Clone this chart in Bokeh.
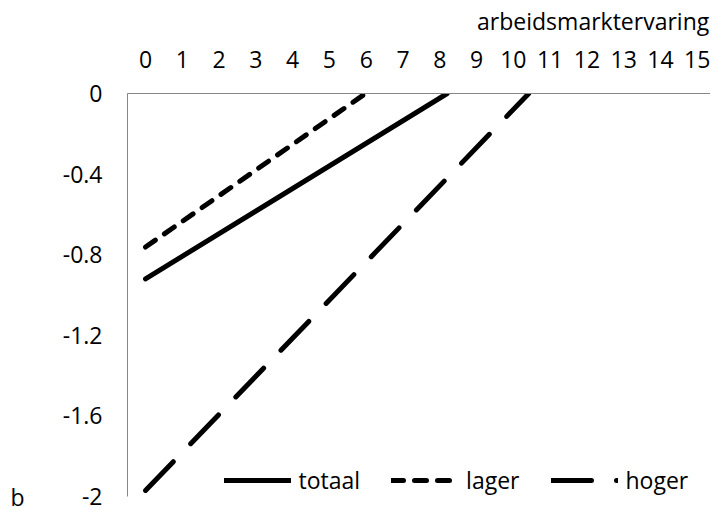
from bokeh.plotting import figure
from bokeh.models import Range1d, FixedTicker, Legend, LegendItem, LinearAxis
from bokeh.embed import file_html
from bokeh.resources import INLINE

# ---- data ----
experience_ticks = list(range(16))          # arbeidsmarktervaring 0..15
y_ticks = [0, -0.4, -0.8, -1.2, -1.6, -2]
y_tick_labels = ["0", "-0.4", "-0.8", "-1.2", "-1.6", "-2"]

series_names = ["totaal", "lager", "hoger"]
totaal_x = [0, 8.2]
totaal_y = [-0.92, 0.0]
lager_x = [0, 5.98]
lager_y = [-0.762, 0.0]
hoger_x = [0, 10.42]
hoger_y = [-1.97, 0.0]

x_title = "arbeidsmarktervaring"
y_title = "b"

FONT = "Open Sans"
FS = "23px"
AXIS_GRAY = "#868686"
TITLE_ANCHOR = 12.17     # layout: centre of the right-aligned axis title

p = figure(width=710, height=512,
           x_range=Range1d(-0.49, 15.36), y_range=Range1d(-2, 0),
           x_axis_location="above",
           output_backend="svg", toolbar_location=None,
           min_border_left=127, min_border_right=0,
           min_border_top=93, min_border_bottom=16)

p.grid.visible = False
p.outline_line_color = None
p.background_fill_color = "white"
p.border_fill_color = "white"

xa = p.xaxis[0]
xa.ticker = FixedTicker(ticks=experience_ticks)
xa.major_label_overrides = {t: str(t) for t in experience_ticks}
ya = p.yaxis[0]
ya.ticker = FixedTicker(ticks=y_ticks)
ya.major_label_overrides = dict(zip(y_ticks, y_tick_labels))

def style_axis(ax, standoff, line_color=AXIS_GRAY):
    ax.major_tick_out = 0
    ax.major_tick_in = 0
    ax.minor_tick_out = 0
    ax.minor_tick_in = 0
    ax.axis_line_color = line_color
    ax.axis_line_width = 1
    ax.major_label_text_font = FONT
    ax.major_label_text_font_size = FS
    ax.major_label_text_color = "black"
    ax.major_label_standoff = standoff

style_axis(xa, 26)
style_axis(ya, 25)

# axis title "arbeidsmarktervaring": right aligned above the category labels
t_axis = LinearAxis(ticker=FixedTicker(ticks=[TITLE_ANCHOR]),
                    major_label_overrides={TITLE_ANCHOR: x_title})
style_axis(t_axis, 11, line_color=None)
p.add_layout(t_axis, "above")

# "b" at the bottom left
b_axis = LinearAxis(ticker=FixedTicker(ticks=[y_ticks[-1]]),
                    major_label_overrides={y_ticks[-1]: y_title})
style_axis(b_axis, 35, line_color=None)
p.add_layout(b_axis, "left")

common = dict(color="black", line_width=5, line_cap="round")
r_tot = p.line(totaal_x, totaal_y, **common)
r_lag = p.line(lager_x, lager_y, line_dash="12 11", **common)
r_hog = p.line(hoger_x, hoger_y, line_dash="40 25", **common)

legend = Legend(items=[LegendItem(label=series_names[0], renderers=[r_tot]),
                       LegendItem(label=series_names[1], renderers=[r_lag]),
                       LegendItem(label=series_names[2], renderers=[r_hog])],
                orientation="horizontal", location=(96.5, 0),
                glyph_width=67, glyph_height=26, label_height=26,
                label_standoff=8, spacing=31, padding=0, margin=0,
                border_line_alpha=0, background_fill_alpha=0,
                label_text_font=FONT, label_text_font_size=FS,
                label_text_color="black")
p.add_layout(legend, "center")

open("out.html", "w").write(file_html(p, INLINE))
